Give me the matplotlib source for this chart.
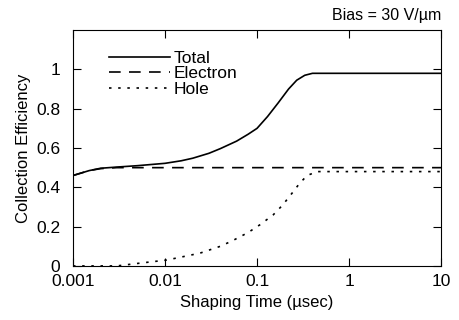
import matplotlib.pyplot as plt

plt.rcParams['font.family'] = ['Liberation Sans', 'DejaVu Sans']

# shaping time (usec)
t_total = [0.001, 0.0015, 0.002, 0.003, 0.005, 0.01, 0.015, 0.02, 0.03, 0.04, 0.06, 0.08, 0.1,
           0.13, 0.17, 0.22, 0.27, 0.33, 0.4, 1, 10]
total = [0.46, 0.485, 0.497, 0.503, 0.51, 0.522, 0.535, 0.548, 0.573, 0.597, 0.635, 0.67, 0.70,
         0.76, 0.83, 0.90, 0.945, 0.97, 0.98, 0.98, 0.98]

t_electron = [0.001, 0.0015, 0.002, 0.003, 10]
electron = [0.46, 0.485, 0.495, 0.50, 0.50]

t_hole = [0.001, 0.003, 0.0045, 0.0105, 0.024, 0.04, 0.055, 0.08, 0.108, 0.15, 0.19, 0.24, 0.29, 0.35, 0.45, 1, 10]
hole = [0.0, 0.0, 0.01, 0.03, 0.065, 0.10, 0.13, 0.17, 0.21, 0.26, 0.31, 0.37, 0.42, 0.46, 0.48, 0.48, 0.48]

fig = plt.figure(figsize=(4.59, 3.2), dpi=100)
ax = fig.add_axes([0.159, 0.169, 0.802, 0.737])

ax.plot(t_total, total, color='black', lw=1.2, label='Total')
ax.plot(t_electron, electron, color='black', lw=1.2, dashes=(7, 5), label='Electron')
ax.plot(t_hole, hole, color='black', lw=1.2, dashes=(1.5, 4), label='Hole')

ax.set_xscale('log')
ax.set_xlim(0.001, 10)
ax.set_ylim(0, 1.2)
ax.set_xticks([0.001, 0.01, 0.1, 1, 10])
ax.set_xticklabels(['0.001', '0.01', '0.1', '1', '10'])
ax.set_yticks([0, 0.2, 0.4, 0.6, 0.8, 1])
ax.set_yticklabels(['0', '0.2', '0.4', '0.6', '0.8', '1'])
ax.minorticks_off()
ax.tick_params(direction='in', top=True, right=True, length=6, labelsize=12.5)
ax.tick_params(axis='x', pad=6)
ax.tick_params(axis='y', pad=9)

ax.set_xlabel('Shaping Time (\u00b5sec)', fontsize=12, labelpad=4)
ax.set_ylabel('Collection Efficiency', fontsize=12, labelpad=4)
ax.text(1.0, 1.03, 'Bias = 30 V/\u00b5m', transform=ax.transAxes, ha='right', va='bottom', fontsize=11.5)

ax.legend(loc='upper left', bbox_to_anchor=(0.08, 0.94), frameon=False, fontsize=12.5,
          handlelength=3.5, handletextpad=0.2, labelspacing=0.0, borderaxespad=0)

fig.savefig('out.png', dpi=100)
